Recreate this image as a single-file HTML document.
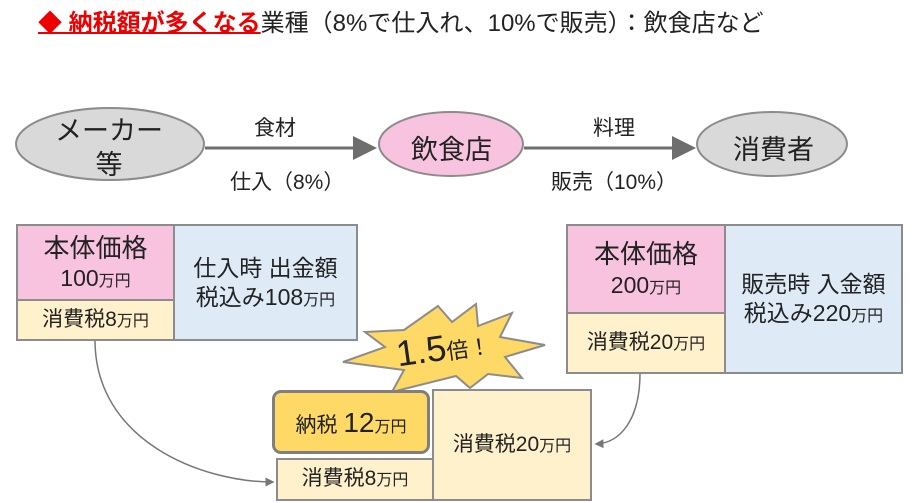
<!DOCTYPE html>
<html><head><meta charset="utf-8"><style>
body{margin:0;width:912px;height:503px;background:#fff;position:relative;overflow:hidden;font-family:"Liberation Sans","Noto Sans CJK JP",sans-serif;color:#222}
.a{position:absolute;box-sizing:border-box;display:flex;flex-direction:column;align-items:center;justify-content:center;text-align:center;line-height:1.25}
.t{position:absolute;white-space:nowrap}
.pk{background:#f8c3df;border:2px solid #8c8c8c}
.yl{background:#fff1cc;border:2px solid #8c8c8c}
.bl{background:#deebf7;border:2px solid #8c8c8c}
.s{font-size:16px}
</style></head><body>
<div class="t" style="left:38px;top:3px;font-size:24px"><span style="color:#e00;font-weight:bold;text-decoration:underline;text-decoration-thickness:2px">◆ 納税額が多くなる</span>業種（8%で仕入れ、10%で販売）：飲食店など</div>
<svg width="912" height="503" style="position:absolute;left:0;top:0">
<defs><marker id="m" markerWidth="8" markerHeight="8" refX="7" refY="4" orient="auto"><path d="M0,0L8,4L0,8z" fill="#6e6e6e"/></marker>
<marker id="m2" markerWidth="6" markerHeight="6" refX="5" refY="3" orient="auto"><path d="M0,0L6,3L0,6z" fill="#777"/></marker></defs>
<line x1="205" y1="148" x2="374" y2="148" stroke="#6e6e6e" stroke-width="3" marker-end="url(#m)"/>
<line x1="524" y1="148" x2="693" y2="148" stroke="#6e6e6e" stroke-width="3" marker-end="url(#m)"/>
<ellipse cx="110" cy="144" rx="94" ry="36" fill="#d9d9d9" stroke="#8c8c8c" stroke-width="2"/>
<ellipse cx="451" cy="144" rx="72" ry="32" fill="#f8c3df" stroke="#8c8c8c" stroke-width="2"/>
<ellipse cx="772" cy="144" rx="75" ry="32" fill="#d9d9d9" stroke="#8c8c8c" stroke-width="2"/>
<path d="M95,340 C95,440 200,482 273,482" fill="none" stroke="#777" stroke-width="1.5" marker-end="url(#m2)"/>
<path d="M640,373 C640,420 620,443 596,444" fill="none" stroke="#777" stroke-width="1.5" marker-end="url(#m2)"/>
<polygon points="438,306 452,322 476,304 478,326 512,313 500,337 545,345 505,357 522,378 488,374 470,388 456,376 392,392 404,370 343,362 385,347 365,332 404,330" fill="#ffd966" stroke="#8c8c8c" stroke-width="2"/>
</svg>
<div class="t" style="left:55px;top:114px;font-size:27px;text-align:center;line-height:34px">メーカー<br>等</div>
<div class="t" style="left:411px;top:128px;font-size:27px">飲食店</div>
<div class="t" style="left:733px;top:128px;font-size:27px">消費者</div>
<div class="t" style="left:254px;top:112px;font-size:21px">食材</div>
<div class="t" style="left:230px;top:166px;font-size:21px">仕入（8%）</div>
<div class="t" style="left:593px;top:112px;font-size:21px">料理</div>
<div class="t" style="left:551px;top:166px;font-size:21px">販売（10%）</div>

<div class="a pk" style="left:16px;top:224px;width:159px;height:77px;font-size:26px">本体価格<div style="font-size:23px">100<span class="s">万円</span></div></div>
<div class="a yl" style="left:16px;top:299px;width:159px;height:42px;font-size:21px"><div>消費税8<span class="s">万円</span></div></div>
<div class="a bl" style="left:173px;top:224px;width:185px;height:117px;font-size:23px">仕入時 出金額<div>税込み108<span class="s">万円</span></div></div>

<div class="a pk" style="left:566px;top:224px;width:160px;height:90px;font-size:26px">本体価格<div style="font-size:23px">200<span class="s">万円</span></div></div>
<div class="a yl" style="left:566px;top:312px;width:160px;height:62px;font-size:21px"><div>消費税20<span class="s">万円</span></div></div>
<div class="a bl" style="left:724px;top:224px;width:179px;height:150px;font-size:23px">販売時 入金額<div>税込み220<span class="s">万円</span></div></div>

<div class="t" style="left:396px;top:327px;font-size:36px;transform:rotate(-8deg)">1.5<span style="font-size:22px">倍！</span></div>
<div class="a yl" style="left:432px;top:389px;width:160px;height:112px;font-size:21px"><div>消費税20<span class="s">万円</span></div></div>
<div class="a" style="left:272px;top:390px;width:158px;height:64px;background:#ffd966;border:3px solid #7f7f7f;border-radius:9px;font-size:21px"><div>納税 <span style="font-size:28px">12</span><span class="s">万円</span></div></div>
<div class="a yl" style="left:276px;top:458px;width:158px;height:43px;font-size:21px"><div>消費税8<span class="s">万円</span></div></div>
</body></html>
